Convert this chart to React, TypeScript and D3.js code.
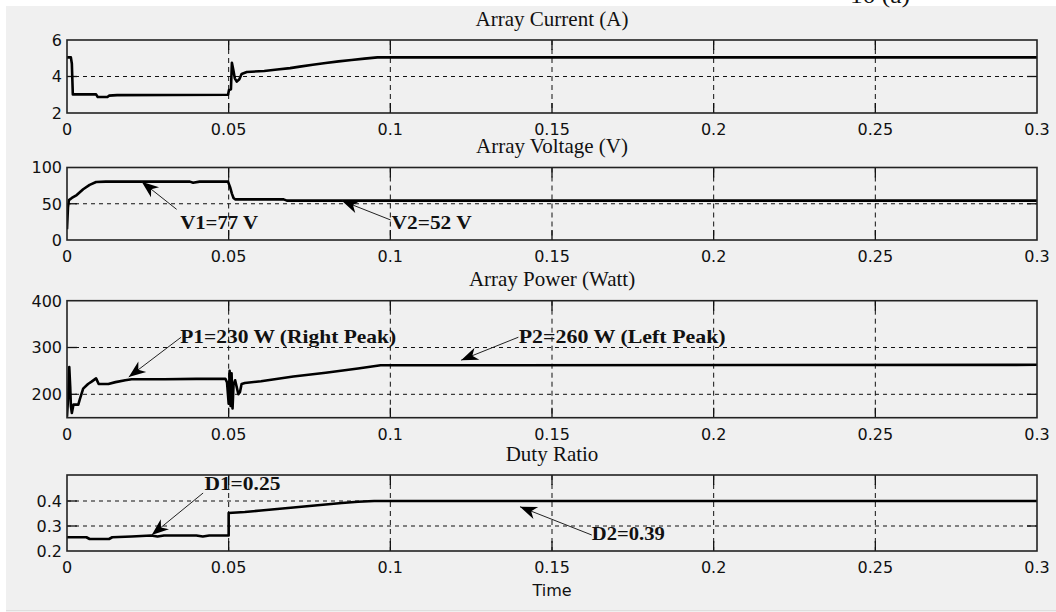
import React from 'react';
import * as d3 from 'd3';

const W = 1056;
const H = 612;

// x axis (Time, s)
const xTicks = [0, 0.05, 0.1, 0.15, 0.2, 0.25, 0.3];
const xTickLabels = ['0', '0.05', '0.1', '0.15', '0.2', '0.25', '0.3'];

// Panel titles
const titles = ['Array Current (A)', 'Array Voltage (V)', 'Array Power (Watt)', 'Duty Ratio'];

// y tick values / labels per panel
const currentTicks = [2, 4, 6];
const voltageTicks = [0, 50, 100];
const powerTicks = [200, 300, 400];
const dutyTicks = [0.2, 0.3, 0.4];
const dutyTickLabels = ['0.2', '0.3', '0.4'];

// Array current (A)
const currentT = [0, 0.0012, 0.0015, 0.0018, 0.009, 0.0095, 0.0125, 0.013, 0.0155, 0.0498, 0.0501, 0.0507, 0.051, 0.0514, 0.0519, 0.0525, 0.0533, 0.054, 0.0556, 0.061, 0.065, 0.069, 0.072, 0.076, 0.08, 0.084, 0.088, 0.092, 0.096, 0.3];
const currentA = [5.05, 5.05, 4.7, 3.02, 3.02, 2.88, 2.88, 2.95, 2.98, 3.0, 3.26, 3.3, 4.75, 4.4, 3.9, 3.72, 3.85, 4.14, 4.25, 4.3, 4.38, 4.46, 4.54, 4.64, 4.74, 4.83, 4.9, 4.98, 5.05, 5.05];

// Array voltage (V)
const voltageT = [0, 0.0003, 0.0006, 0.0015, 0.003, 0.005, 0.007, 0.009, 0.012, 0.038, 0.039, 0.041, 0.0498, 0.0505, 0.051, 0.0515, 0.052, 0.067, 0.068, 0.3];
const voltageV = [15, 45, 55, 58, 62, 70, 76, 80, 80.5, 80.5, 79, 80.5, 80.5, 72, 64, 58, 56, 56, 54.3, 54.3];

// Array power (W)
const powerT = [0, 0.0004, 0.0007, 0.001, 0.0012, 0.0015, 0.002, 0.0035, 0.004, 0.005, 0.0065, 0.0076, 0.009, 0.0098, 0.0128, 0.015, 0.018, 0.02, 0.03, 0.04, 0.049, 0.0495, 0.05, 0.0503, 0.0506, 0.0509, 0.0512, 0.0515, 0.052, 0.053, 0.0535, 0.054, 0.055, 0.06, 0.07, 0.08, 0.09, 0.097, 0.3];
const powerW = [152, 200, 258, 215, 175, 160, 178, 178, 190, 212, 222, 227, 234, 222, 222, 226, 230, 232, 232, 233, 233, 225, 180, 250, 175, 245, 170, 220, 230, 200, 205, 222, 224, 228, 238, 246, 255, 262, 263];

// Duty ratio
const dutyT = [0, 0.006, 0.007, 0.013, 0.014, 0.02, 0.026, 0.028, 0.03, 0.04, 0.042, 0.044, 0.05, 0.05, 0.055, 0.06, 0.065, 0.07, 0.075, 0.08, 0.085, 0.09, 0.095, 0.3];
const dutyD = [0.255, 0.255, 0.248, 0.248, 0.255, 0.258, 0.262, 0.258, 0.262, 0.262, 0.258, 0.262, 0.262, 0.352, 0.356, 0.362, 0.368, 0.374, 0.38, 0.386, 0.392, 0.397, 0.4, 0.4];

// Annotations: [text, tipT, tipV, tailT, tailV, textT, textV, textWidth]
const annotTexts = [['V1=77 V', 'V2=52 V'], ['P1=230 W (Right Peak)', 'P2=260 W (Left Peak)'], ['D1=0.25', 'D2=0.39']];
const annotV = [
  { panel: 1, text: 'V1=77 V', tip: [0.0231, 80.4], tail: [0.0339, 42.3], at: [0.035, 14.8], w: 78 },
  { panel: 1, text: 'V2=52 V', tip: [0.085, 54.2], tail: [0.1001, 27.6], at: [0.1004, 14.8], w: 80 },
];
const annotP = [
  { panel: 2, text: 'P1=230 W (Right Peak)', tip: [0.0191, 237], tail: [0.0353, 322], at: [0.035, 309.6], w: 216 },
  { panel: 2, text: 'P2=260 W (Left Peak)', tip: [0.1219, 273], tail: [0.1396, 322], at: [0.1397, 309.6], w: 207 },
];
const annotD = [
  { panel: 3, text: 'D1=0.25', tip: [0.0262, 0.264], tail: [0.0421, 0.432], at: [0.0425, 0.444], w: 76 },
  { panel: 3, text: 'D2=0.39', tip: [0.1401, 0.377], tail: [0.1623, 0.264], at: [0.1623, 0.244], w: 73 },
];

const X0 = 67;
const X1 = 1037;

const panelsLayout = [
  { top: 40, bottom: 113, domain: [2, 6] },
  { top: 167.5, bottom: 240, domain: [0, 100] },
  { top: 300.7, bottom: 417.7, domain: [150, 400] },
  { top: 475, bottom: 551, domain: [0.2, 0.504] },
];

const panelData = [
  { t: currentT, v: currentA, ticks: currentTicks, labels: currentTicks.map(String) },
  { t: voltageT, v: voltageV, ticks: voltageTicks, labels: voltageTicks.map(String) },
  { t: powerT, v: powerW, ticks: powerTicks, labels: powerTicks.map(String) },
  { t: dutyT, v: dutyD, ticks: dutyTicks, labels: dutyTickLabels },
];

const annotations = [...annotV, ...annotP, ...annotD];

const TICK_FONT = '"DejaVu Sans", sans-serif';
const SERIF = '"Liberation Serif", "Times New Roman", serif';

function arrowHead(tipX: number, tipY: number, fromX: number, fromY: number) {
  const ang = Math.atan2(fromY - tipY, fromX - tipX);
  const L = 17, hw = 6.5, notch = 12;
  const ca = Math.cos(ang), sa = Math.sin(ang);
  const pt = (a: number, b: number) => [tipX + a * ca - b * sa, tipY + a * sa + b * ca];
  const p1 = pt(L, hw), p2 = pt(notch, 0), p3 = pt(L, -hw);
  return `M${tipX},${tipY}L${p1[0]},${p1[1]}L${p2[0]},${p2[1]}L${p3[0]},${p3[1]}Z`;
}

export default function App() {
  const x = d3.scaleLinear().domain([0, 0.3]).range([X0, X1]);

  return (
    <svg width={W} height={H} style={{ position: 'absolute', left: 0, top: 0, background: '#ffffff' }}>
      <rect x={6} y={6} width={W - 6} height={H - 6} fill="#f0f0f0" />
      <line x1={6} x2={W} y1={610.5} y2={610.5} stroke="#dedede" strokeWidth={1} />
      <text x={850} y={3} fontFamily={SERIF} fontSize={22} textLength={60} lengthAdjust="spacingAndGlyphs" fill="#111">10 (a)</text>

      {panelsLayout.map((p, i) => {
        const d = panelData[i];
        const y = d3.scaleLinear().domain(p.domain).range([p.bottom, p.top]);
        const line = d3.line<number>().x((_, k) => x(d.t[k])).y((v) => y(v));
        const clipId = `clip${i}`;
        const tickLen = 10;
        return (
          <g key={i}>
            <defs>
              <clipPath id={clipId}>
                <rect x={X0} y={p.top} width={X1 - X0} height={p.bottom - p.top} />
              </clipPath>
            </defs>
            <text x={(X0 + X1) / 2} y={p.top - 14.5} textAnchor="middle" fontFamily={SERIF} fontSize={21} fill="#111">{titles[i]}</text>
            {/* vertical grid */}
            {xTicks.slice(1, -1).map((t) => (
              <g key={`vx${t}`}>
                <line x1={x(t)} x2={x(t)} y1={p.top} y2={p.bottom} stroke="#111" strokeWidth={1} strokeDasharray="5,4" />
                <line x1={x(t)} x2={x(t)} y1={p.bottom} y2={p.bottom - tickLen} stroke="#111" strokeWidth={1.3} />
                <line x1={x(t)} x2={x(t)} y1={p.top} y2={p.top + tickLen} stroke="#111" strokeWidth={1.3} />
              </g>
            ))}
            {/* horizontal grid */}
            {d.ticks.filter((v) => y(v) > p.top + 1 && y(v) < p.bottom - 1).map((v) => (
              <g key={`hy${v}`}>
                <line x1={X0} x2={X1} y1={y(v)} y2={y(v)} stroke="#111" strokeWidth={1} strokeDasharray="4,4" />
                <line x1={X0} x2={X0 + tickLen} y1={y(v)} y2={y(v)} stroke="#111" strokeWidth={1.3} />
                <line x1={X1} x2={X1 - tickLen} y1={y(v)} y2={y(v)} stroke="#111" strokeWidth={1.3} />
              </g>
            ))}
            {/* data */}
            <path d={line(d.v) || ''} fill="none" stroke="#000" strokeWidth={2.6} strokeLinejoin="round" clipPath={`url(#${clipId})`} />
            {/* frame */}
            <rect x={X0} y={p.top} width={X1 - X0} height={p.bottom - p.top} fill="none" stroke="#222" strokeWidth={1.6} />
            {/* x tick labels */}
            {xTicks.map((t, k) => (
              <text key={`xl${t}`} x={x(t)} y={p.bottom + 22} textAnchor="middle" fontFamily={TICK_FONT} fontSize={16} fill="#111">{xTickLabels[k]}</text>
            ))}
            {/* y tick labels */}
            {d.ticks.map((v, k) => (
              <text key={`yl${v}`} x={62} y={y(v) + 5.8} textAnchor="end" fontFamily={TICK_FONT} fontSize={16} fill="#111">{d.labels[k]}</text>
            ))}
            {/* annotations */}
            {annotations.filter((a) => a.panel === i).map((a) => {
              const tx = x(a.tip[0]), ty = y(a.tip[1]);
              const sx = x(a.tail[0]), sy = y(a.tail[1]);
              return (
                <g key={a.text}>
                  <line x1={sx} y1={sy} x2={tx} y2={ty} stroke="#222" strokeWidth={1} />
                  <path d={arrowHead(tx, ty, sx, sy)} fill="#000" />
                  <text x={x(a.at[0])} y={y(a.at[1])} fontFamily={SERIF} fontWeight="bold" fontSize={19} textLength={a.w} lengthAdjust="spacingAndGlyphs" fill="#111">{a.text}</text>
                </g>
              );
            })}
          </g>
        );
      })}
      <text x={(X0 + X1) / 2} y={596} textAnchor="middle" fontFamily={TICK_FONT} fontSize={16} fill="#111">Time</text>
    </svg>
  );
}
